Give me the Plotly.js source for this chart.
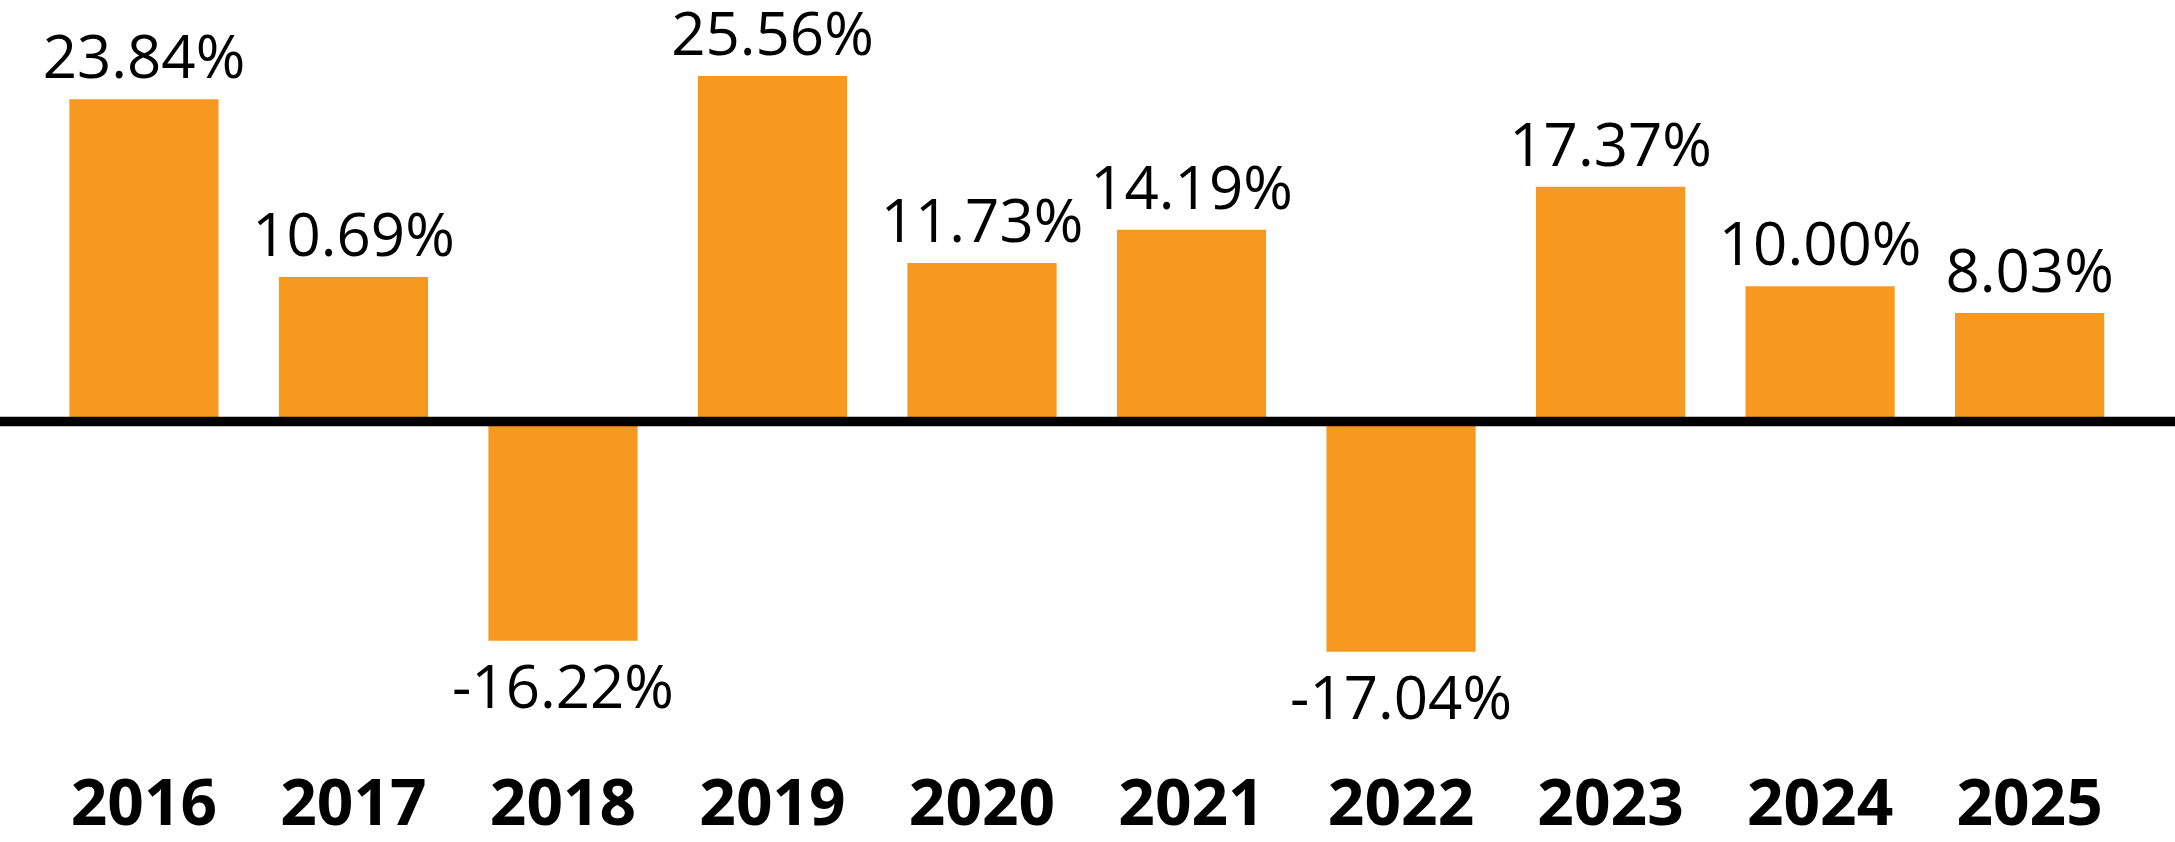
<!DOCTYPE html>
<html>
<head>
<meta charset="utf-8">
<script src="https://cdn.plot.ly/plotly-3.0.1.min.js"></script>
<style>
  html, body { margin: 0; padding: 0; background: #ffffff; }
  #chart { width: 2175px; height: 842px; }
</style>
</head>
<body>
<div id="chart"></div>
<script>
const years = ['2016', '2017', '2018', '2019', '2020', '2021', '2022', '2023', '2024', '2025'];
const returns = [23.84, 10.69, -16.22, 25.56, 11.73, 14.19, -17.04, 17.37, 10.00, 8.03];
const valueLabels = returns.map(v => v.toFixed(2) + '%');

const barColor = '#F7981F';

const trace = {
  type: 'bar',
  x: years,
  y: returns,
  text: valueLabels,
  textposition: 'outside',
  constraintext: 'none',
  cliponaxis: false,
  textfont: { family: 'Open Sans, sans-serif', size: 60, color: '#000000' },
  marker: { color: barColor, line: { width: 0 } },
  width: 0.712,
  hoverinfo: 'skip'
};

const layout = {
  width: 2175,
  height: 842,
  margin: { l: 0, r: 0, t: 0, b: 82 },
  paper_bgcolor: '#ffffff',
  plot_bgcolor: '#ffffff',
  showlegend: false,
  bargap: 0.288,
  xaxis: {
    type: 'category',
    range: [-0.687, 9.694],
    showgrid: false,
    showline: false,
    zeroline: false,
    ticks: '',
    tickfont: { family: 'Open Sans, sans-serif', size: 64, color: '#000000', weight: 'bold' },
    fixedrange: true
  },
  yaxis: {
    range: [-25.04, 31.18],
    showgrid: false,
    showline: false,
    zeroline: false,
    showticklabels: false,
    ticks: '',
    fixedrange: true
  },
  shapes: [{
    type: 'line',
    xref: 'paper',
    yref: 'y',
    x0: 0,
    x1: 1,
    y0: 0,
    y1: 0,
    layer: 'above',
    line: { color: '#000000', width: 9.5 }
  }]
};

Plotly.newPlot('chart', [trace], layout, { staticPlot: true, displayModeBar: false });
</script>
</body>
</html>
